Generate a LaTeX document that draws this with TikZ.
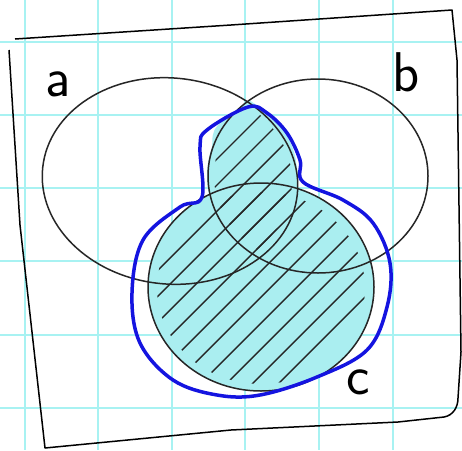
\documentclass[tikz,border=0pt]{standalone}
\usetikzlibrary{calc}
\definecolor{gridc}{HTML}{A8F2F2}
\definecolor{fillc}{HTML}{AAEEF0}
\definecolor{bluec}{HTML}{1414E0}
\tikzset{
  setline/.style={draw=black!85, line width=1.5pt},
  hatchline/.style={draw=black!85, line width=1.4pt, line cap=round},
  frameline/.style={draw=black, line width=1.5pt, line join=round},
  lab/.style={font=\fontsize{56}{56}\selectfont\sffamily, inner sep=0pt}
}
\begin{document}
\begin{tikzpicture}[x=1pt,y=-1pt]
\useasboundingbox (0,0) rectangle (462,450);
\fill[white] (0,0) rectangle (462,450);
% grid
\foreach \gx in {25,98,172,245,319,393} \draw[gridc, line width=1.2pt] (\gx,0) -- (\gx,450);
\foreach \gy in {42,115,188,261,335,408} \draw[gridc, line width=1.2pt] (0,\gy) -- (462,\gy);

% frame
\draw[frameline] (15,39) -- (231,25) -- (452,10) -- (457,60) -- (461,352) -- (458,398) to[out=-90,in=10] (444,417) -- (398,422) -- (231,430) -- (45,448) -- (20,225) -- (9,50);

% cyan fill
\fill[fillc] (261,287) ellipse [x radius=113, y radius=104];
\begin{scope}
  \clip (170,181) ellipse [x radius=128, y radius=103];
  \fill[fillc] (318,176) ellipse [x radius=111, y radius=97];
\end{scope}
\fill[fillc] plot[smooth cycle, tension=0.7] coordinates {(248,108) (218,125) (212,150) (214,190) (240,200) (270,195) (296,170) (280,125)};

% hatching
\begin{scope}
  \clip (261,288) ellipse [x radius=104, y radius=96];
  \foreach \k in {350,376,...,680} \draw[hatchline] (\k-420,420) -- (\k-100,100);
\end{scope}
\begin{scope}
  \clip (170,181) ellipse [x radius=122, y radius=98];
  \clip (318,176) ellipse [x radius=104, y radius=91];
  \foreach \k in {350,376,...,680} \draw[hatchline] (\k-420,420) -- (\k-100,100);
\end{scope}

% sets
\draw[setline, rotate around={-6:(170,181)}] (170,181) ellipse [x radius=128, y radius=103];
\draw[setline] (318,176) ellipse [x radius=110, y radius=97];
\draw[setline] (261,287) ellipse [x radius=113, y radius=104];

% blue outline
\draw[bluec, line width=3.5pt] plot[smooth cycle, tension=0.6] coordinates {(248,107) (207,130) (200,147) (202,197) (180,207) (143,240) (132,293) (140,343) (173,380) (217,395) (260,395) (317,377) (367,350) (387,307) (390,263) (373,223) (343,200) (303,182) (300,160) (287,133) (267,113)};

% labels
\node[lab] (la) at (58,84) {a};
\node[lab] (lb) at (406,72) {b};
\node[lab] (lc) at (358,382) {c};
\end{tikzpicture}
\end{document}
